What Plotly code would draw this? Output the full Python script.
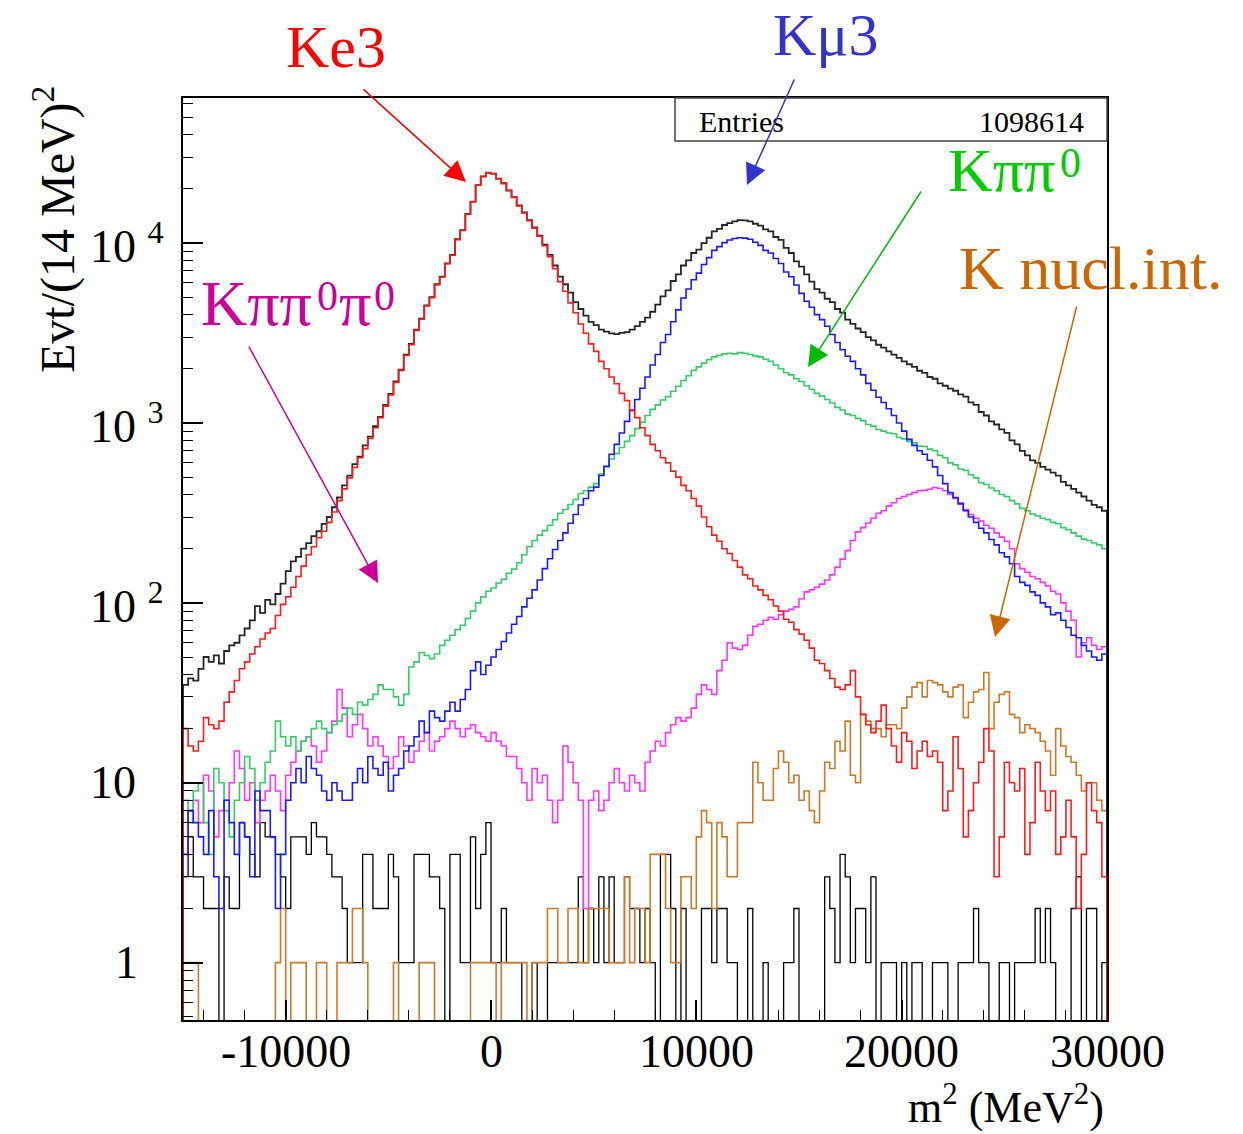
import numpy as np
import plotly.graph_objects as go

# ---------------- data (bin contents) ----------------
X_MIN, BIN_W, N_BINS = -15000, 250, 180

total = [35, 38, 37, 43, 50, 47, 51, 46, 54, 58, 60, 66, 72, 80, 96, 88, 104, 98, 112, 128,
         150, 170, 180, 200, 215, 235, 250, 275, 300, 340, 385, 450, 510, 590, 650, 750, 840, 960, 1080, 1260,
         1450, 1700, 1980, 2400, 2750, 3300, 3800, 4500, 5000, 5900, 6500, 7700, 8600, 10500, 11800, 14500, 17000, 21000, 23500, 24600,
         24300, 22800, 21500, 19600, 18000, 16200, 14800, 13400, 12200, 11000, 9800, 8600, 7500, 6500, 5900, 5300, 4700, 4300, 3950, 3650,
         3500, 3300, 3220, 3150, 3120, 3170, 3200, 3300, 3450, 3650, 3850, 4150, 4550, 5050, 5450, 6150, 6700, 7500, 8000, 8800,
         9200, 10000, 10700, 11600, 12000, 12600, 12900, 13200, 13400, 13350, 13200, 12800, 12500, 11900, 11600, 10800, 10400, 9400, 8800, 7900,
         7400, 6700, 6100, 5550, 5300, 4900, 4700, 4300, 4100, 3750, 3550, 3350, 3200, 3000, 2880, 2720, 2620, 2500, 2400, 2300,
         2200, 2120, 2050, 1950, 1900, 1800, 1760, 1660, 1610, 1550, 1510, 1440, 1400, 1300, 1260, 1150, 1100, 1020, 980, 920,
         880, 800, 760, 700, 660, 620, 600, 570, 550, 530, 510, 470, 450, 430, 410, 390, 370, 350, 340, 325]

ke3 = [20, 16, 15, 17, 23, 21, 20, 22, 28, 32, 37, 43, 47, 52, 57, 63, 68, 72, 85, 98,
       108, 122, 140, 160, 185, 205, 230, 250, 280, 320, 370, 430, 495, 565, 640, 720, 820, 940, 1070, 1240,
       1430, 1680, 1960, 2370, 2720, 3270, 3770, 4470, 4970, 5870, 6470, 7670, 8570, 10450, 11750, 14450, 16950, 20950, 23450, 24550,
       24250, 22750, 21450, 19550, 17950, 16100, 14700, 13300, 12100, 10900, 9650, 8400, 7200, 6100, 5400, 4650, 4100, 3550, 3150, 2750,
       2500, 2200, 2000, 1800, 1650, 1460, 1330, 1170, 1070, 940, 850, 760, 700, 640, 600, 540, 500, 450, 420, 380,
       345, 300, 265, 238, 220, 200, 188, 172, 158, 143, 136, 124, 118, 110, 104, 96, 90, 81, 78, 71,
       67, 62, 56, 48, 46, 42, 38, 34, 33, 35, 42, 30, 24, 21, 19, 22, 27, 20, 16, 13,
       19, 17, 12, 15, 17, 14, 15, 13, 7, 9, 18, 12, 5, 7, 10, 13, 20, 15, 3, 5,
       13, 10, 9, 12, 4, 6, 13, 9, 7, 9, 4, 5, 8, 5, 2, 4, 10, 7, 6, 3]

kmu3 = [3, 7, 6, 5, 4, 7, 3, 2, 8, 6, 4, 6, 5, 3, 9, 7, 7, 5, 2, 4,
        8, 10, 12, 10, 14, 12, 11, 9, 8, 10, 9, 8, 8, 10, 12, 10, 14, 12, 11, 13,
        9, 11, 12, 15, 16, 18, 22, 19, 25, 23, 22, 25, 28, 25, 29, 33, 42, 47, 40, 45,
        50, 55, 61, 68, 76, 84, 95, 106, 118, 134, 155, 176, 198, 222, 245, 277, 310, 350, 380, 420,
        440, 510, 575, 670, 760, 880, 1020, 1180, 1350, 1560, 1800, 2100, 2400, 2800, 3100, 3650, 4250, 4950, 5550, 6250,
        6800, 7600, 8300, 9100, 9550, 10050, 10400, 10600, 10700, 10650, 10500, 10100, 9700, 9100, 8800, 8200, 7700, 6900, 6500, 5850,
        5250, 4750, 4400, 4000, 3750, 3450, 3100, 2800, 2550, 2350, 2200, 2000, 1850, 1660, 1520, 1390, 1300, 1200, 1100, 1000,
        900, 810, 750, 700, 670, 620, 570, 510, 460, 410, 385, 355, 325, 300, 280, 260, 245, 225, 210, 190,
        180, 165, 140, 130, 125, 115, 110, 100, 95, 86, 88, 80, 73, 66, 64, 58, 54, 50, 48, 52]

kpipi0 = [8, 6, 9, 10, 6, 4, 12, 10, 7, 5, 8, 10, 14, 12, 8, 10, 13, 15, 22, 18,
          16, 18, 15, 17, 18, 20, 22, 20, 19, 21, 22, 24, 26, 24, 28, 27, 29, 31, 35, 33,
          33, 30, 27, 31, 44, 47, 53, 51, 49, 52, 58, 62, 66, 71, 75, 82, 90, 100, 108, 116,
          121, 129, 135, 146, 154, 167, 185, 205, 222, 238, 252, 270, 290, 315, 330, 352, 375, 405, 420, 440,
          460, 520, 570, 630, 675, 730, 790, 850, 930, 1010, 1100, 1190, 1260, 1340, 1400, 1500, 1600, 1720, 1830, 1960,
          2050, 2150, 2250, 2330, 2380, 2420, 2440, 2420, 2460, 2440, 2400, 2360, 2330, 2260, 2200, 2100, 2000, 1900, 1850, 1760,
          1700, 1610, 1540, 1460, 1410, 1350, 1290, 1220, 1180, 1120, 1100, 1060, 1030, 980, 960, 920, 900, 880, 870, 830,
          815, 790, 775, 745, 740, 715, 700, 660, 640, 600, 585, 555, 545, 515, 495, 465, 455, 435, 420, 400,
          390, 370, 355, 335, 325, 312, 305, 295, 290, 280, 275, 262, 255, 245, 235, 226, 222, 215, 210, 200]

kpipi0pi0 = [4, 7, 8, 6, 11, 9, 5, 7, 8, 10, 15, 12, 8, 10, 6, 8, 9, 11, 9, 7,
             11, 13, 15, 17, 18, 16, 13, 15, 19, 22, 33, 26, 18, 21, 24, 20, 16, 18, 16, 14,
             12, 14, 18, 16, 13, 15, 17, 19, 15, 17, 18, 20, 22, 20, 18, 20, 21, 19, 18, 17,
             19, 17, 16, 14, 14, 12, 10, 8, 12, 10, 11, 8, 6, 8, 16, 13, 10, 8, 2, 8,
             9, 7, 8, 10, 12, 10, 9, 11, 10, 9, 13, 15, 17, 16, 19, 21, 23, 22, 23, 26,
             31, 35, 33, 31, 42, 48, 60, 56, 55, 58, 66, 74, 76, 80, 83, 81, 86, 90, 92, 95,
             105, 115, 118, 122, 127, 134, 143, 158, 175, 195, 222, 248, 262, 278, 295, 315, 325, 345, 360, 380,
             390, 400, 410, 420, 422, 428, 438, 432, 420, 400, 380, 360, 330, 310, 295, 285, 270, 260, 245, 232,
             220, 200, 165, 155, 148, 140, 136, 130, 124, 116, 112, 100, 90, 80, 50, 60, 64, 58, 55, 57]

knucl = [1, 1, 1, 0, 0, 0, 0, 0, 0, 0, 0, 0, 0, 0, 0, 0, 0, 0, 1, 2,
         0, 1, 1, 1, 0, 0, 1, 1, 0, 0, 1, 1, 1, 2, 2, 1, 0, 0, 0, 0,
         0, 1, 0, 0, 0, 0, 1, 1, 1, 0, 0, 0, 0, 0, 0, 0, 1, 1, 1, 1,
         1, 0, 1, 1, 1, 1, 1, 0, 1, 1, 1, 2, 2, 1, 1, 2, 2, 1, 1, 2,
         2, 2, 2, 1, 1, 1, 3, 1, 2, 2, 1, 4, 4, 4, 2, 1, 1, 3, 3, 2,
         5, 7, 6, 2, 6, 5, 3, 3, 6, 6, 6, 13, 10, 8, 8, 12, 15, 13, 10, 11,
         8, 9, 7, 6, 9, 13, 12, 17, 15, 22, 11, 10, 24, 22, 20, 20, 18, 21, 21, 20,
         26, 30, 34, 36, 30, 37, 36, 35, 32, 30, 34, 35, 23, 28, 32, 33, 41, 20, 28, 31,
         32, 24, 23, 19, 21, 20, 19, 17, 15, 11, 20, 16, 14, 13, 11, 9, 10, 10, 8, 7]

other = [4, 5, 3, 3, 2, 2, 2, 0, 3, 2, 2, 6, 5, 4, 3, 6, 5, 5, 4, 3,
         2, 5, 5, 5, 4, 6, 5, 5, 4, 3, 3, 2, 1, 1, 1, 4, 4, 2, 2, 2,
         4, 3, 1, 1, 1, 4, 4, 4, 3, 3, 2, 0, 4, 4, 1, 1, 5, 2, 4, 6,
         1, 1, 2, 1, 1, 1, 0, 0, 1, 0, 0, 1, 1, 1, 1, 1, 1, 3, 1, 2,
         1, 3, 1, 3, 1, 1, 3, 2, 2, 1, 2, 1, 0, 4, 4, 2, 0, 2, 0, 0,
         0, 2, 2, 1, 2, 2, 1, 1, 0, 0, 2, 0, 0, 1, 0, 0, 0, 1, 1, 2,
         0, 0, 0, 0, 0, 3, 2, 1, 4, 3, 1, 2, 2, 1, 3, 0, 1, 1, 1, 0,
         1, 0, 1, 1, 0, 0, 1, 1, 1, 0, 0, 1, 1, 1, 2, 1, 1, 0, 0, 1,
         1, 0, 1, 1, 1, 1, 2, 1, 2, 1, 0, 0, 0, 2, 3, 0, 2, 2, 0, 1]

X_TICKS = [-10000, 0, 10000, 20000, 30000]
Y_TICKS = [1, 10, 100, 1000, 10000]
Y_TICK_TEXT = ["1", "10", "10 <sup>2</sup>", "10 <sup>3</sup>", "10 <sup>4</sup>"]
ENTRIES = 1098614

for _name, _s in [("total", total), ("ke3", ke3), ("kmu3", kmu3), ("kpipi0", kpipi0),
                  ("kpipi0pi0", kpipi0pi0), ("knucl", knucl), ("other", other)]:
    if len(_s) != N_BINS:
        raise ValueError(f"{_name} has {len(_s)} bins")

# ---------------- layout helpers ----------------
W, H = 1243, 1134
L, R, T, B = 183, 1107, 98, 1020
Y_LO, Y_HI = 0.48, 64000
FLOOR = 0.1
FONT = "Liberation Serif"


def px(x):
    return (x - L) / (R - L)


def py(y):
    return (B - y) / (B - T)


edges = X_MIN + BIN_W * np.arange(N_BINS + 1)


def steps(vals):
    v = np.asarray(vals, float)
    v = np.where(v > 0, v, FLOOR)
    xs = np.concatenate([[edges[0]], edges[:-1], [edges[-1], edges[-1]]])
    ys = np.concatenate([[FLOOR], v, [v[-1], FLOOR]])
    return xs, ys


fig = go.Figure()
series = [
    (other, "#000000", 1.3),
    (knucl, "#cc7a29", 1.6),
    (kpipi0pi0, "#ff33ff", 1.6),
    (kpipi0, "#33cc66", 1.6),
    (kmu3, "#1a1aff", 1.6),
    (total, "#262626", 1.8),
    (ke3, "#ff1a1a", 1.6),
]
for vals, col, w in series:
    xs, ys = steps(vals)
    fig.add_trace(go.Scatter(x=xs, y=ys, mode="lines", line_shape="hv",
                             line=dict(color=col, width=w), hoverinfo="skip"))

minor_y = [m * 10 ** d for d in range(-1, 5) for m in range(2, 10)
           if Y_LO <= m * 10 ** d <= Y_HI]

fig.update_xaxes(range=[-15000, 30000], tickvals=X_TICKS, showticklabels=False,
                 ticks="inside", ticklen=20, tickwidth=1.5, tickcolor="black",
                 showline=True, mirror=True, linecolor="black", linewidth=2,
                 showgrid=False, zeroline=False,
                 minor=dict(dtick=2000, ticks="inside", ticklen=10,
                            tickwidth=1.2, tickcolor="black", showgrid=False))
fig.update_yaxes(type="log", range=[np.log10(Y_LO), np.log10(Y_HI)],
                 tickvals=Y_TICKS, showticklabels=False,
                 ticks="inside", ticklen=20, tickwidth=1.5, tickcolor="black",
                 showline=True, mirror=True, linecolor="black", linewidth=2,
                 showgrid=False, zeroline=False,
                 minor=dict(tickvals=minor_y, ticks="inside", ticklen=10,
                            tickwidth=1.2, tickcolor="black", showgrid=False))

ann = []
# x tick labels
for v in X_TICKS:
    ann.append(dict(x=v, y=py(1051), xref="x", yref="paper", text=str(v),
                    showarrow=False, xanchor="center", yanchor="middle",
                    font=dict(family=FONT, size=46, color="black")))
# y tick labels
for v, t in zip(Y_TICKS, Y_TICK_TEXT):
    ann.append(dict(x=px(88 if v > 1 else 113), y=np.log10(v), xref="paper", yref="y",
                    text=t, showarrow=False, xanchor="left", yanchor="middle",
                    font=dict(family=FONT, size=46, color="black")))

# axis titles
ann.append(dict(x=px(54), y=py(230), xref="paper", yref="paper", textangle=-90,
                text="Evt/(14 MeV)<sup>2</sup>", showarrow=False,
                xanchor="center", yanchor="middle",
                font=dict(family=FONT, size=48, color="black")))
ann.append(dict(x=px(1106), y=py(1104), xref="paper", yref="paper",
                text="m<sup>2</sup> (MeV<sup>2</sup>)", showarrow=False,
                xanchor="right", yanchor="middle",
                font=dict(family=FONT, size=44, color="black")))

# stats box text
ann.append(dict(x=px(697), y=py(121), xref="paper", yref="paper", text="Entries",
                showarrow=False, xanchor="left", yanchor="middle",
                font=dict(family=FONT, size=30, color="black")))
ann.append(dict(x=px(1086), y=py(121), xref="paper", yref="paper", text=str(ENTRIES),
                showarrow=False, xanchor="right", yanchor="middle",
                font=dict(family=FONT, size=30, color="black")))

# component labels: pieces (text, left x, centre y, size)
PI = "\u03c0"
label_parts = [
    ("#ff0000", [("Ke3", 284, 47, 60)]),
    ("#3333cc", [("K\u03bc3", 771, 35, 60)]),
    ("#00cc00", [("K" + PI + PI, 946, 170, 62), ("0", 1058, 163, 42)]),
    ("#cc6600", [("K nucl.int.", 957, 268, 62)]),
    ("#cc0099", [("K" + PI + PI, 199, 303, 64), ("0", 315, 296, 42),
                 (PI, 337, 303, 64), ("0", 372, 296, 42)]),
]
for c, parts in label_parts:
    for t, x, y, s in parts:
        ann.append(dict(x=px(x), y=py(y), xref="paper", yref="paper", text=t,
                        showarrow=False, xanchor="left", yanchor="middle",
                        font=dict(family=FONT, size=s, color=c)))

# arrows (tail -> tip)
arrows = [
    ((362, 88), (466, 182), "#ff0000"),
    ((795, 78), (747, 185), "#3333cc"),
    ((922, 190), (808, 367), "#00bb00"),
    ((1077, 305), (995, 637), "#cc6600"),
    ((248, 345), (378, 583), "#cc0099"),
]
for (tx, ty), (hx, hy), c in arrows:
    ann.append(dict(x=px(hx), y=py(hy), xref="paper", yref="paper", text="",
                    showarrow=True, ax=tx - hx, ay=ty - hy, arrowhead=2,
                    arrowsize=2.8, arrowwidth=1.5, arrowcolor=c))

fig.update_layout(
    width=W, height=H, autosize=False,
    margin=dict(l=L, r=W - R, t=T, b=H - B, pad=0),
    paper_bgcolor="white", plot_bgcolor="white",
    showlegend=False, annotations=ann,
    shapes=[dict(type="rect", xref="paper", yref="paper",
                 x0=px(675), x1=px(1107), y0=py(141), y1=py(98),
                 line=dict(color="#444444", width=1.5), fillcolor="rgba(0,0,0,0)")],
)

fig.write_html("out.html")
